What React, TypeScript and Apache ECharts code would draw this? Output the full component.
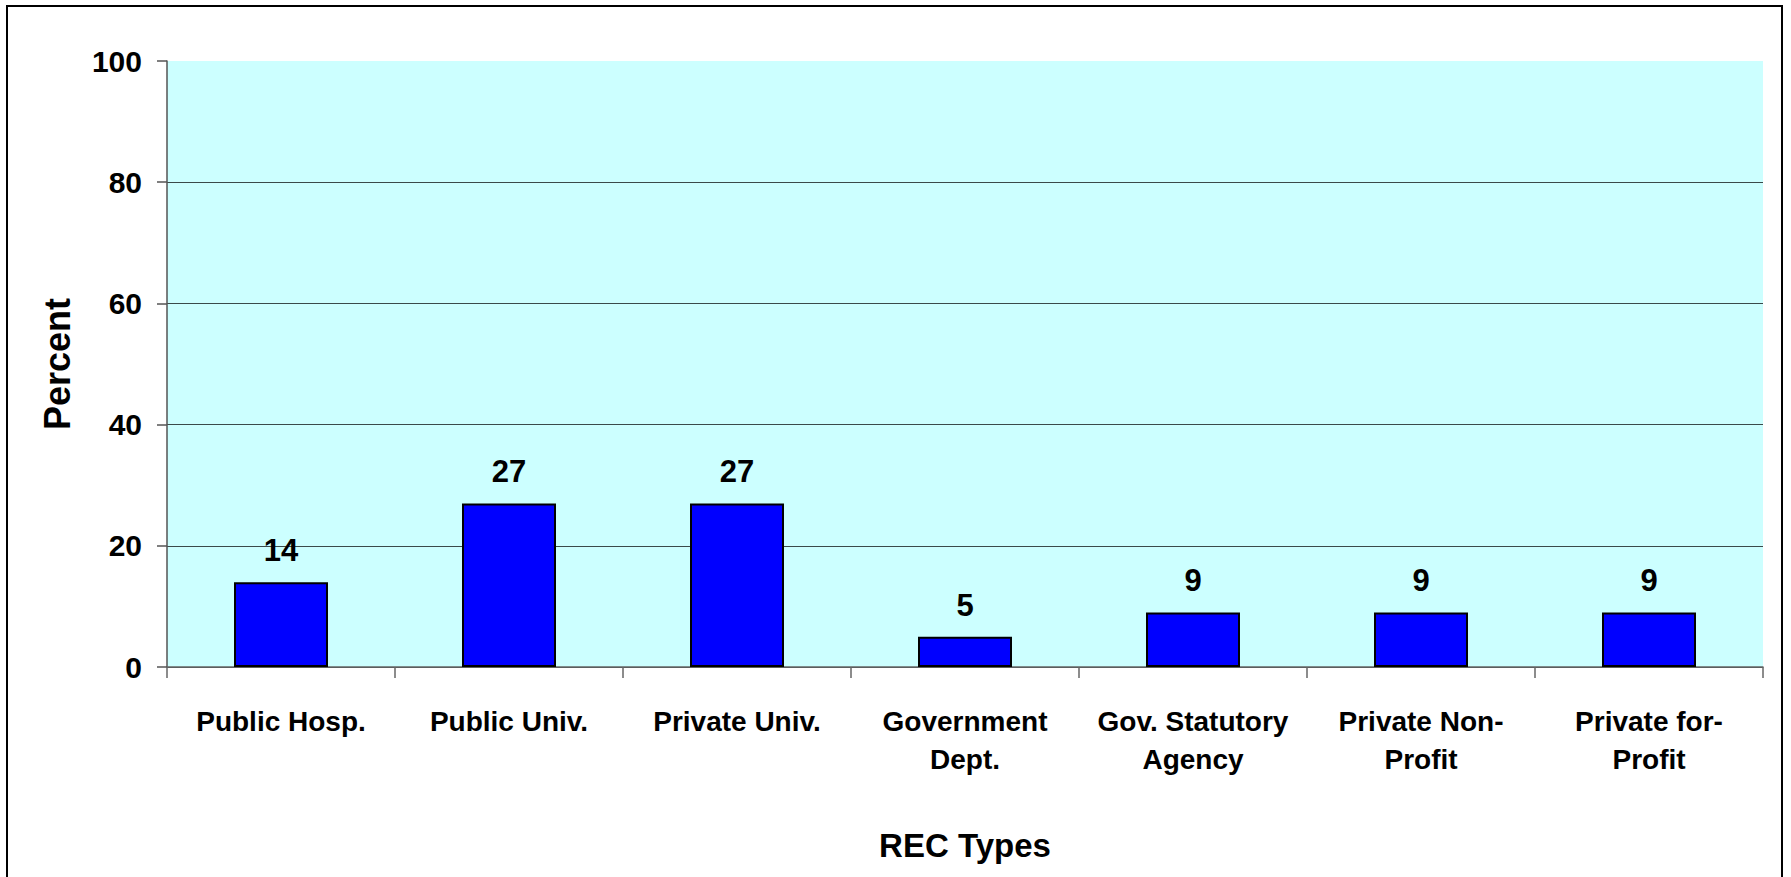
import React, { useEffect, useRef } from "react";
import * as echarts from "echarts";

const categories = [
  "Public Hosp.",
  "Public Univ.",
  "Private Univ.",
  "Government\nDept.",
  "Gov. Statutory\nAgency",
  "Private Non-\nProfit",
  "Private for-\nProfit",
];
const percentValues = [14, 27, 27, 5, 9, 9, 9];
const yTicks = { min: 0, max: 100, interval: 20 };
const xAxisTitle = "REC Types";
const yAxisTitle = "Percent";

const FONT = "'Liberation Sans', Arial, Helvetica, sans-serif";

export default function App() {
  const ref = useRef<HTMLDivElement>(null);
  useEffect(() => {
    if (!ref.current) return;
    const chart = echarts.init(ref.current, undefined, { renderer: "svg" });
    chart.setOption({
      animation: false,
      backgroundColor: "#ffffff",
      graphic: [
        {
          type: "rect",
          shape: { x: 7, y: 6, width: 1775, height: 900 },
          style: { fill: "none", stroke: "#000", lineWidth: 2 },
          silent: true,
          z: 100,
        },
      ],
      grid: {
        left: 167,
        top: 61,
        right: 1791 - 1763,
        bottom: 877 - 667,
        show: true,
        backgroundColor: "#CCFFFF",
        borderWidth: 0,
      },
      xAxis: {
        type: "category",
        data: categories,
        name: xAxisTitle,
        nameLocation: "middle",
        nameGap: 162,
        nameTextStyle: { fontFamily: FONT, fontWeight: "bold", fontSize: 33, color: "#000" },
        axisLine: { lineStyle: { color: "#666", width: 1.5 } },
        axisTick: { show: true, length: 11, lineStyle: { color: "#666", width: 1.5 } },
        axisLabel: {
          interval: 0,
          margin: 35,
          fontFamily: FONT,
          fontWeight: "bold",
          fontSize: 28,
          lineHeight: 38,
          color: "#000",
        },
      },
      yAxis: {
        type: "value",
        min: yTicks.min,
        max: yTicks.max,
        interval: yTicks.interval,
        name: yAxisTitle,
        nameLocation: "middle",
        nameGap: 92,
        nameTextStyle: { fontFamily: FONT, fontWeight: "bold", fontSize: 36, color: "#000" },
        axisLine: { show: true, lineStyle: { color: "#555", width: 1.5 } },
        axisTick: { show: true, length: 10, lineStyle: { color: "#555", width: 1.5 } },
        axisLabel: {
          margin: 25,
          fontFamily: FONT,
          fontWeight: "bold",
          fontSize: 30,
          color: "#000",
        },
        splitLine: {
          show: true,
          lineStyle: {
            color: ["#3a4a4a", "#3a4a4a", "#3a4a4a", "#3a4a4a", "#3a4a4a", "#CCFFFF"],
            width: 1.2,
          },
        },
      },
      series: [
        {
          type: "bar",
          data: percentValues,
          barWidth: 94,
          itemStyle: { color: "#0000FF", borderColor: "#000", borderWidth: 2 },
          label: {
            show: true,
            position: "top",
            distance: 16,
            fontFamily: FONT,
            fontWeight: "bold",
            fontSize: 31,
            color: "#000",
          },
        },
      ],
    });
    return () => chart.dispose();
  }, []);
  return (
    <div
      ref={ref}
      style={{ position: "fixed", left: 0, top: 0, width: 1791, height: 877 }}
    />
  );
}
